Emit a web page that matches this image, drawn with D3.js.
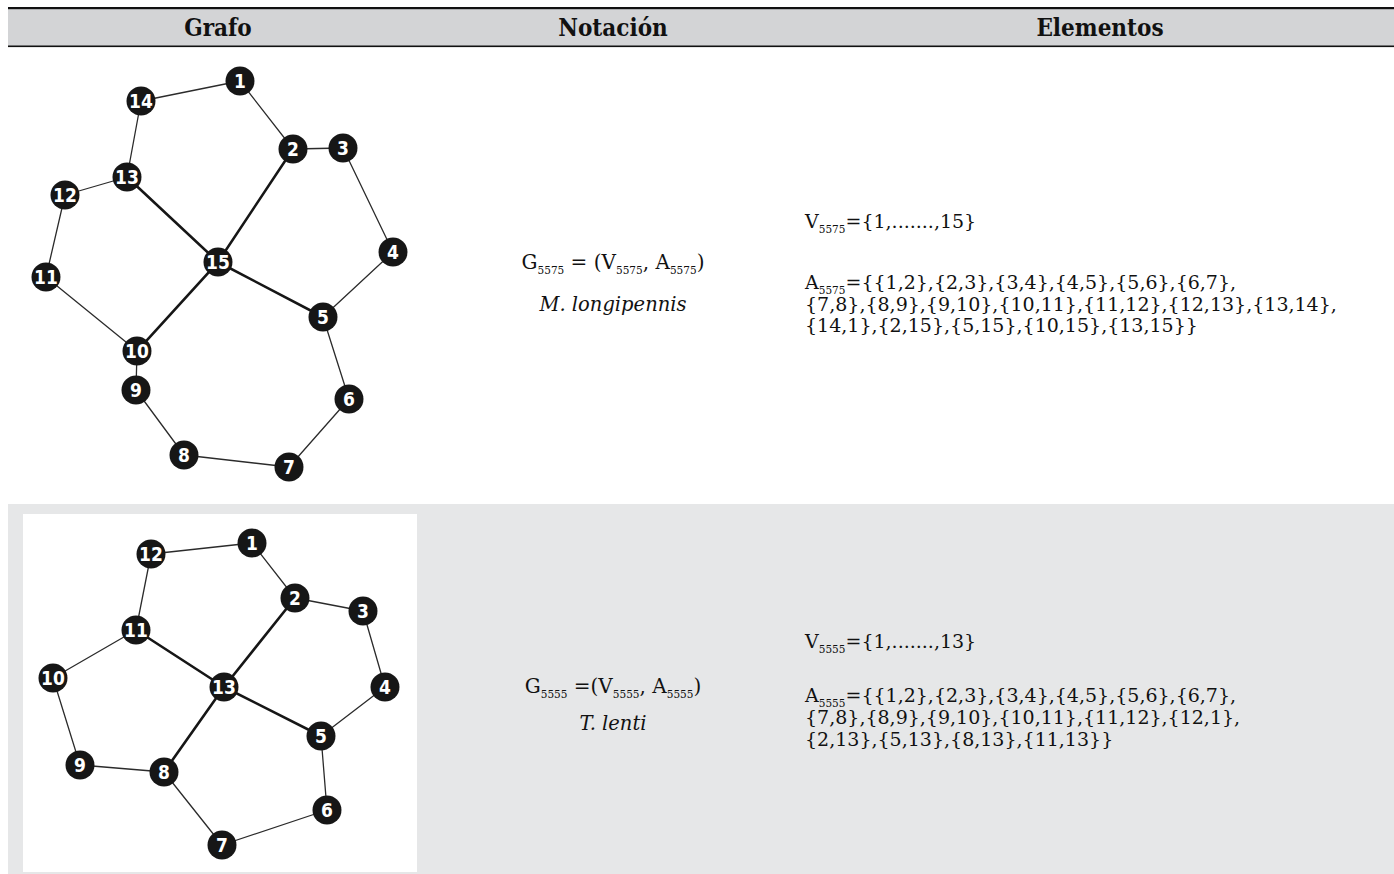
<!DOCTYPE html>
<html>
<head>
<meta charset="utf-8">
<script src="https://cdn.jsdelivr.net/npm/d3@7"></script>
<style>
  html, body { margin: 0; padding: 0; background: #ffffff; }
  svg { display: block; }
</style>
</head>
<body>
<svg id="chart" width="1394" height="874"></svg>
<script>
// ---------------- DATA ----------------
const columnHeaders = ["Grafo", "Notación", "Elementos"];
const graphIds = ["5575", "5555"];
const speciesNames = ["M. longipennis", "T. lenti"];
const vertexTotals = [15, 13];

// layout coordinates of vertices (graph-drawing units)
const layout5575 = [
  [1, 217, 23], [2, 270, 91], [3, 320, 90], [4, 370, 194], [5, 300, 259],
  [6, 326, 341], [7, 266, 409], [8, 161, 397], [9, 113, 332], [10, 114, 293],
  [11, 23, 219], [12, 42, 137], [13, 104, 119], [14, 118, 43], [15, 195, 204]
];
const layout5555 = [
  [1, 229, 29], [2, 272, 84], [3, 340, 97], [4, 362, 173], [5, 298, 222],
  [6, 304, 296], [7, 199, 331], [8, 141, 258], [9, 57, 251], [10, 30, 164],
  [11, 113, 116], [12, 128, 40], [13, 201, 173]
];

const edges5575 = [
  [1,2],[2,3],[3,4],[4,5],[5,6],[6,7],[7,8],[8,9],[9,10],[10,11],[11,12],[12,13],[13,14],
  [14,1],[2,15],[5,15],[10,15],[13,15]
];
const edges5555 = [
  [1,2],[2,3],[3,4],[4,5],[5,6],[6,7],[7,8],[8,9],[9,10],[10,11],[11,12],[12,1],
  [2,13],[5,13],[8,13],[11,13]
];
// how many edges are printed on each line of the "Elementos" column
const lineBreaks5575 = [6, 7, 5];
const lineBreaks5555 = [6, 6, 4];

// ---------------- DRAWING ----------------
const W = 1394, H = 874;
const svg = d3.select("#chart");

const defs = svg.append("defs");
defs.append("filter").attr("id", "soft")
  .attr("x", "-20%").attr("y", "-20%").attr("width", "140%").attr("height", "140%")
  .append("feGaussianBlur").attr("stdDeviation", 0.7);

const tableLeft = 8, tableRight = 1394;
const header = { top: 7, bottom: 47 };
const rowBands = [ { top: 48, bottom: 504, shade: false }, { top: 504, bottom: 874, shade: true } ];
const colCenters = [218, 613, 1100];
const notationX = 613, elementsX = 805;

// row backgrounds
svg.selectAll("rect.rowbg").data(rowBands.filter(r => r.shade)).join("rect")
  .attr("class", "rowbg")
  .attr("x", tableLeft).attr("y", d => d.top)
  .attr("width", tableRight - tableLeft).attr("height", d => d.bottom - d.top)
  .attr("fill", "#e6e7e8");

// header
svg.append("rect").attr("x", tableLeft).attr("y", header.top)
  .attr("width", tableRight - tableLeft).attr("height", header.bottom - header.top)
  .attr("fill", "#d3d4d6");
svg.append("rect").attr("x", tableLeft).attr("y", header.top)
  .attr("width", tableRight - tableLeft).attr("height", 2.2).attr("fill", "#111");
svg.append("rect").attr("x", tableLeft).attr("y", header.bottom - 1.5)
  .attr("width", tableRight - tableLeft).attr("height", 1.6).attr("fill", "#111");

svg.selectAll("text.hdr").data(columnHeaders).join("text")
  .attr("class", "hdr")
  .attr("x", (d, i) => colCenters[i]).attr("y", 36)
  .attr("text-anchor", "middle")
  .style("font-family", "'DejaVu Serif Condensed', 'DejaVu Serif', serif")
  .style("font-stretch", "condensed")
  .style("font-weight", "bold")
  .style("font-size", "24px")
  .attr("fill", "#111")
  .text(d => d);

// graph frames
const frames = [
  { x0: 23, y0: 58, w: 394, h: 430, white: false },
  { x0: 23, y0: 514, w: 394, h: 358, white: true }
];

function drawGraph(layout, edges, frame) {
  const x = d3.scaleLinear().domain([0, frame.w]).range([frame.x0, frame.x0 + frame.w]);
  const y = d3.scaleLinear().domain([0, frame.h]).range([frame.y0, frame.y0 + frame.h]);
  const g = svg.append("g");
  if (frame.white) {
    g.append("rect").attr("x", x(0)).attr("y", y(0))
      .attr("width", x(frame.w) - x(0)).attr("height", y(frame.h) - y(0))
      .attr("fill", "#ffffff");
  }
  const nodes = new Map(layout.map(([id, lx, ly]) => [id, { id, lx, ly }]));
  const degree = new Map();
  edges.forEach(([a, b]) => { degree.set(a, (degree.get(a) || 0) + 1); degree.set(b, (degree.get(b) || 0) + 1); });
  const hub = d3.greatest([...degree.entries()], d => d[1])[0];

  g.selectAll("line").data(edges).join("line")
    .attr("x1", d => x(nodes.get(d[0]).lx)).attr("y1", d => y(nodes.get(d[0]).ly))
    .attr("x2", d => x(nodes.get(d[1]).lx)).attr("y2", d => y(nodes.get(d[1]).ly))
    .attr("stroke", d => (d[0] === hub || d[1] === hub) ? "#161616" : "#2b2b2b")
    .attr("stroke-width", d => (d[0] === hub || d[1] === hub) ? 2.6 : 1.3)
    .attr("stroke-linecap", "round");

  const ng = g.selectAll("g.node").data([...nodes.values()]).join("g")
    .attr("class", "node")
    .attr("transform", d => `translate(${x(d.lx)},${y(d.ly)})`);
  ng.append("circle").attr("r", 14.5).attr("fill", "#161616").attr("filter", "url(#soft)");
  ng.append("text")
    .attr("text-anchor", "middle").attr("dy", "0.36em")
    .style("font-family", "'Liberation Sans Narrow', 'DejaVu Sans Condensed', 'Arial Narrow', sans-serif")
    .style("font-weight", "bold")
    .style("font-size", "19px")
    .attr("fill", "#ffffff")
    .text(d => d.id);
}

drawGraph(layout5575, edges5575, frames[0]);
drawGraph(layout5555, edges5555, frames[1]);

// ---------- text with subscripts ----------
const bodyFont = "'DejaVu Serif', 'Liberation Serif', serif";
function richText(parent, segments, x, yBase, anchor, size) {
  const t = parent.append("text")
    .attr("x", x).attr("y", yBase)
    .attr("text-anchor", anchor)
    .style("font-family", bodyFont)
    .style("font-size", size + "px")
    .attr("fill", "#111");
  let down = false;
  segments.forEach(seg => {
    const sp = t.append("tspan").text(seg.t);
    if (seg.sub && !down) { sp.attr("dy", 5).style("font-size", "10.5px"); down = true; }
    else if (seg.sub) { sp.style("font-size", "10.5px"); }
    else if (!seg.sub && down) { sp.attr("dy", -5); down = false; }
  });
  return t;
}

const rowsText = [
  { gBase: 269, spBase: 311, vBase: 228, aBases: [289, 310.5, 332], eqSpace: " = (" },
  { gBase: 693, spBase: 730, vBase: 648, aBases: [702, 724, 746], eqSpace: " =(" }
];
const allEdges = [edges5575, edges5555];
const allBreaks = [lineBreaks5575, lineBreaks5555];

rowsText.forEach((r, i) => {
  const id = graphIds[i];
  // Notation
  richText(svg, [
    { t: "G" }, { t: id, sub: true }, { t: r.eqSpace + "V" }, { t: id, sub: true },
    { t: ", A" }, { t: id, sub: true }, { t: ")" }
  ], notationX, r.gBase, "middle", 20);
  svg.append("text").attr("x", notationX).attr("y", r.spBase)
    .attr("text-anchor", "middle")
    .style("font-family", bodyFont).style("font-style", "italic").style("font-size", "19.5px")
    .attr("fill", "#111").text(speciesNames[i]);

  // Elements: vertex set
  richText(svg, [{ t: "V" }, { t: id, sub: true }, { t: "={1,.......," + vertexTotals[i] + "}" }],
    elementsX, r.vBase, "start", 19);

  // Elements: edge set, wrapped on lines
  const strs = allEdges[i].map(e => "{" + e[0] + "," + e[1] + "}");
  let k = 0;
  allBreaks[i].forEach((n, li) => {
    const chunk = strs.slice(k, k + n); k += n;
    const last = k >= strs.length;
    const s = chunk.join(",") + (last ? "}" : ",");
    if (li === 0) {
      richText(svg, [{ t: "A" }, { t: id, sub: true }, { t: "={" + s }], elementsX, r.aBases[li], "start", 19);
    } else {
      richText(svg, [{ t: s }], elementsX, r.aBases[li], "start", 19);
    }
  });
});
</script>
</body>
</html>
